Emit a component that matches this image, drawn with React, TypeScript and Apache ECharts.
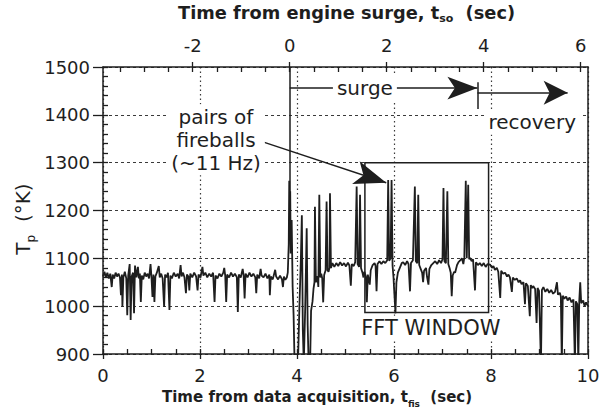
import React, { useEffect, useRef } from "react";
import * as echarts from "echarts";

// ---- tick labels ----
const bottomTicks = [0, 2, 4, 6, 8, 10];
const topTicks = [-2, 0, 2, 4, 6];
const topMinorTicks = [-3.5, -3, -2.5, -2, -1.5, -1, -0.5, 0, 0.5, 1, 1.5, 2, 2.5, 3, 3.5, 4, 4.5, 5, 5.5, 6];
const yRange = [900, 1500];
const xRange = [0, 10];
const surgeStart = 3.85; // t_fis at which t_so = 0

// ---- measured probe temperature trace: [t_fis (s), T_p (K)] ----
const preSurge: [number, number][] = [
  [0.0, 1062], [0.03, 1072], [0.06, 1060], [0.09, 1070], [0.12, 1058], [0.15, 1068], [0.18, 1040], [0.2, 1066],
  [0.23, 1058], [0.26, 1070], [0.29, 1062], [0.32, 1068], [0.35, 1060], [0.37, 1023], [0.39, 1066], [0.4, 999],
  [0.42, 1060], [0.45, 1072], [0.48, 1058], [0.5, 981], [0.52, 1064], [0.55, 1088], [0.57, 971], [0.59, 1062],
  [0.62, 1070], [0.64, 985], [0.66, 1085], [0.69, 1060], [0.72, 1082], [0.74, 1058], [0.76, 1068], [0.78, 1009],
  [0.8, 1064], [0.83, 1056], [0.86, 1070], [0.89, 1062], [0.92, 1068], [0.95, 1058], [0.98, 1088], [1.0, 1060],
  [1.02, 1019], [1.04, 1066], [1.06, 1009], [1.08, 1062], [1.11, 1070], [1.15, 1084], [1.17, 1060], [1.2, 1068],
  [1.23, 1058], [1.26, 999], [1.28, 1066], [1.31, 1060], [1.34, 1070], [1.37, 992], [1.39, 1064], [1.42, 1058],
  [1.46, 1070], [1.5, 1062], [1.54, 1068], [1.57, 1058], [1.6, 1086], [1.62, 1062], [1.65, 1070], [1.68, 1060],
  [1.71, 1027], [1.73, 1066], [1.76, 1062], [1.78, 1033], [1.8, 1068], [1.84, 1060], [1.88, 1070], [1.92, 1062],
  [1.95, 1033], [1.97, 1066], [2.01, 1060], [2.05, 1082], [2.07, 1064], [2.11, 1070], [2.15, 1060], [2.19, 1068],
  [2.23, 1062], [2.27, 1070], [2.3, 1009], [2.32, 1064], [2.36, 1058], [2.4, 1068], [2.44, 1062], [2.48, 1070],
  [2.5, 1080], [2.52, 1064], [2.54, 1009], [2.56, 1066], [2.6, 1060], [2.64, 1070], [2.68, 1062], [2.72, 1068],
  [2.76, 1060], [2.78, 988], [2.8, 1066], [2.84, 1060], [2.88, 1078], [2.9, 1064], [2.92, 1016], [2.94, 1068],
  [2.98, 1060], [3.02, 1070], [3.06, 1062], [3.1, 1068], [3.14, 1060], [3.16, 1027], [3.18, 1066], [3.22, 1058],
  [3.25, 1078], [3.27, 1064], [3.31, 1060], [3.35, 1068], [3.39, 1058], [3.43, 1066], [3.44, 1023], [3.46, 1062],
  [3.5, 1056], [3.55, 1076], [3.57, 1062], [3.61, 1056], [3.65, 1064], [3.69, 1056], [3.71, 1040], [3.73, 1062],
  [3.76, 1055], [3.79, 1060],
];

const surgePhase: [number, number][] = [
  [3.81, 1070], [3.83, 1130], [3.84, 1262], [3.85, 1150], [3.86, 1240], [3.87, 1110], [3.89, 1180], [3.91, 1040],
  [3.93, 980], [3.95, 880], [3.99, 880], [4.02, 880], [4.05, 1000], [4.08, 1100], [4.1, 1190], [4.12, 950],
  [4.14, 880], [4.17, 1000], [4.2, 1163], [4.22, 960], [4.24, 880], [4.27, 880], [4.29, 990], [4.32, 1010],
  [4.34, 1036], [4.36, 1050], [4.37, 1208], [4.39, 1050], [4.42, 1063], [4.44, 1040], [4.46, 1233], [4.48, 1060],
  [4.5, 1068], [4.52, 1058], [4.54, 1008], [4.56, 1065], [4.59, 1075], [4.61, 1219], [4.63, 1075], [4.65, 1072],
  [4.67, 1080], [4.68, 1236], [4.7, 1080], [4.73, 1090], [4.77, 1082], [4.81, 1090], [4.85, 1084], [4.89, 1092],
  [4.93, 1085], [4.97, 1090], [5.01, 1083], [5.05, 1091], [5.08, 1085], [5.11, 1043], [5.13, 1088], [5.17, 1084],
  [5.2, 1092], [5.23, 1250], [5.25, 1088], [5.28, 1082], [5.3, 1233], [5.32, 1080], [5.35, 1070], [5.37, 1060],
  [5.39, 1072], [5.42, 1062], [5.44, 1008], [5.46, 1066], [5.5, 1045], [5.52, 1075], [5.56, 1086], [5.6, 1090],
  [5.62, 1084], [5.64, 1031], [5.66, 1088], [5.7, 1094], [5.74, 1088], [5.78, 1094], [5.82, 1090], [5.86, 1096],
  [5.88, 1264], [5.9, 1095], [5.93, 1100], [5.95, 1264], [5.97, 1085], [5.99, 1060], [6.0, 1040], [6.02, 1004],
  [6.03, 985], [6.05, 1050], [6.08, 1070], [6.12, 1080], [6.16, 1090], [6.19, 1092], [6.23, 1086], [6.27, 1094],
  [6.3, 1088], [6.33, 1031], [6.35, 1090], [6.39, 1096], [6.43, 1250], [6.45, 1094], [6.48, 1090], [6.5, 1233],
  [6.52, 1086], [6.55, 1078], [6.58, 1070], [6.6, 1050], [6.62, 1074], [6.66, 1080], [6.68, 1062], [6.71, 1045],
  [6.73, 1078], [6.77, 1086], [6.81, 1090], [6.85, 1094], [6.89, 1088], [6.93, 1096], [6.97, 1090], [7.0, 1098],
  [7.02, 1247], [7.04, 1094], [7.07, 1090], [7.1, 1240], [7.12, 1088], [7.15, 1078], [7.17, 1070], [7.19, 1021],
  [7.21, 1064], [7.24, 1072], [7.26, 1070], [7.3, 1086], [7.33, 1092], [7.36, 1095], [7.4, 1100], [7.43, 1088],
  [7.45, 1102], [7.48, 1262], [7.5, 1100], [7.53, 1254], [7.55, 1098], [7.57, 1101], [7.6, 1094], [7.63, 1098],
  [7.67, 1033], [7.69, 1092], [7.73, 1086],
];

const recoveryPhase: [number, number][] = [
  [7.77, 1090], [7.81, 1084], [7.85, 1090], [7.89, 1082], [7.93, 1088], [7.98, 1087], [8.02, 1080], [8.05, 1084],
  [8.08, 1076], [8.12, 1080], [8.15, 1072], [8.19, 1017], [8.21, 1074], [8.25, 1068], [8.29, 1070], [8.33, 1062],
  [8.36, 1066], [8.39, 1060], [8.43, 1030], [8.45, 1060], [8.49, 1055], [8.53, 1058], [8.57, 1050], [8.6, 1054],
  [8.63, 1046], [8.67, 1050], [8.7, 1004], [8.72, 1048], [8.76, 1042], [8.8, 979], [8.82, 1044], [8.85, 1038],
  [8.87, 1042], [8.91, 1036], [8.94, 965], [8.96, 1038], [8.99, 1032], [9.03, 880], [9.05, 1034], [9.08, 1040],
  [9.12, 1030], [9.16, 1036], [9.2, 1028], [9.24, 1034], [9.28, 1026], [9.32, 1030], [9.36, 1050], [9.38, 1024],
  [9.42, 1028], [9.44, 1020], [9.46, 880], [9.48, 1022], [9.51, 1016], [9.55, 1020], [9.58, 1012], [9.62, 1018],
  [9.66, 1008], [9.7, 1014], [9.73, 880], [9.75, 1010], [9.78, 1004], [9.8, 880], [9.82, 1012], [9.84, 1050],
  [9.86, 1006], [9.9, 1012], [9.93, 1000], [9.96, 1008], [10.0, 1000],
];

// ---- annotations (data coordinates) ----
const fftWindowT = [5.4, 7.95];
const fftWindowK = [1300, 987];
const surgeArrow = [3.85, 7.72, 1456];
const recoveryArrow = [7.72, 9.58, 1446];
const phaseDivider = [7.72, 1468, 1412];
const surgeStartLine = [1500, 1170];
const fireballArrow = [[3.28, 1344], [5.84, 1258]];

const FONT = '"DejaVu Sans", sans-serif';
const INK = "#1e1e1e";

export default function App() {
  const ref = useRef<HTMLDivElement>(null);
  useEffect(() => {
    if (!ref.current) return;
    const chart = echarts.init(ref.current, undefined, { renderer: "svg" });
    const trace = [...preSurge, ...surgePhase, ...recoveryPhase];
    const axisLine = { show: true, onZero: false, lineStyle: { color: INK, width: 1.5 } };
    const tickStyle = { color: INK, width: 1.3 };
    const labelStyle = { fontSize: 18, fontFamily: FONT, color: INK };
    const subRich = (size: number, bold: boolean, lh: number) => ({
      m: { fontSize: size, fontFamily: FONT, fontWeight: bold ? "bold" : "normal", fill: INK, lineHeight: lh },
      s: { fontSize: Math.round(size * 0.6), fontFamily: FONT, fontWeight: bold ? "bold" : "normal", fill: INK, lineHeight: lh, verticalAlign: "bottom" },
    });
    const option: any = {
      animation: false,
      backgroundColor: "#ffffff",
      grid: { left: 103, right: 15, top: 67, bottom: 61 },
      xAxis: [
        {
          type: "value", position: "bottom", min: xRange[0], max: xRange[1], interval: 2,
          axisLine, axisTick: { show: true, inside: false, length: 5, lineStyle: tickStyle },
          axisLabel: { ...labelStyle, margin: 12, customValues: bottomTicks },
          splitLine: { show: true, lineStyle: { color: "#3a3a3a", type: [1.5, 3], width: 1.2 } },
        },
        {
          type: "value", position: "top", min: xRange[0] - surgeStart, max: xRange[1] - surgeStart,
          axisLine, axisTick: { show: true, inside: false, length: 5, lineStyle: tickStyle, customValues: topTicks },
          axisLabel: { ...labelStyle, margin: 13, customValues: topTicks },
          splitLine: { show: false },
        },
        {
          type: "value", position: "bottom", min: xRange[0], max: xRange[1], interval: 0.5,
          axisLine: { show: false, onZero: false }, axisTick: { show: true, inside: true, length: 5, lineStyle: tickStyle },
          axisLabel: { show: false }, splitLine: { show: false },
        },
        {
          type: "value", position: "top", min: xRange[0] - surgeStart, max: xRange[1] - surgeStart,
          axisLine: { show: false, onZero: false }, axisTick: { show: true, inside: true, length: 5, lineStyle: tickStyle, customValues: topMinorTicks },
          axisLabel: { show: false }, splitLine: { show: false },
        },
      ],
      yAxis: [
        {
          type: "value", position: "left", min: yRange[0], max: yRange[1], interval: 100,
          axisLine, axisTick: { show: true, inside: false, length: 10, lineStyle: tickStyle },
          axisLabel: { ...labelStyle, margin: 13, formatter: (v: number) => String(v) },
          splitLine: { show: true, lineStyle: { color: "#3a3a3a", type: [3, 3], width: 1.2 } },
        },
        {
          type: "value", position: "right", min: yRange[0], max: yRange[1],
          axisLine, axisTick: { show: false }, axisLabel: { show: false }, splitLine: { show: false },
        },
        {
          type: "value", position: "left", min: yRange[0], max: yRange[1], interval: 20,
          axisLine: { show: false, onZero: false }, axisTick: { show: true, inside: true, length: 5, lineStyle: tickStyle },
          axisLabel: { show: false }, splitLine: { show: false },
        },
      ],
      graphic: [
        {
          type: "text", left: 178, top: 3, z: 20,
          style: { text: "{m|Time from engine surge, t}{s|so}{m|  (sec)}", rich: subRich(17.8, true, 24) },
        },
        {
          type: "text", left: 162, top: 389, z: 20,
          style: { text: "{m|Time from data acquisition, t}{s|fis}{m|  (sec)}", rich: subRich(15, true, 24) },
        },
        {
          type: "text", x: 23, y: 219, rotation: Math.PI / 2, z: 20,
          style: { text: "{m|T}{s|p}{m|  (°K)}", align: "center", verticalAlign: "middle", rich: subRich(20, false, 28) },
        },
      ],
      series: [
        {
          type: "line",
          xAxisIndex: 0,
          yAxisIndex: 0,
          data: trace,
          showSymbol: false,
          symbol: "none",
          clip: true,
          lineStyle: { color: INK, width: 1.8 },
          silent: true,
          markArea: {
            silent: true,
            itemStyle: { color: "rgba(0,0,0,0)", borderColor: INK, borderWidth: 1.5 },
            data: [[{ coord: [fftWindowT[0], fftWindowK[0]] }, { coord: [fftWindowT[1], fftWindowK[1]] }]],
          },
          markLine: {
            silent: true,
            z: 6,
            symbol: ["none", "none"],
            label: { show: false },
            lineStyle: { color: INK, width: 1.5, type: "solid" },
            data: [
              [{ coord: [surgeStart, surgeStartLine[0]] }, { coord: [surgeStart, surgeStartLine[1]] }],
              [
                { coord: [surgeArrow[0], surgeArrow[2]] },
                { coord: [surgeArrow[1], surgeArrow[2]], symbol: "arrow", symbolSize: [17, 30] },
              ],
              [{ coord: [phaseDivider[0], phaseDivider[1]] }, { coord: [phaseDivider[0], phaseDivider[2]] }],
              [
                { coord: [recoveryArrow[0], recoveryArrow[2]] },
                { coord: [recoveryArrow[1], recoveryArrow[2]], symbol: "arrow", symbolSize: [18, 24] },
              ],
              [
                { coord: fireballArrow[0] },
                { coord: fireballArrow[1], symbol: "arrow", symbolSize: [18, 32] },
              ],
            ],
          },
          markPoint: {
            silent: true,
            z: 10,
            symbol: "rect",
            symbolSize: 1,
            itemStyle: { color: "rgba(0,0,0,0)" },
            label: {
              show: true, position: "inside", formatter: "{b}", color: INK, fontFamily: FONT, fontSize: 20,
              lineHeight: 23, backgroundColor: "#ffffff", padding: [1, 4],
            },
            data: [
              { name: "pairs of\nfireballs\n(~11 Hz)", coord: [2.33, 1348] },
              { name: "surge", coord: [5.4, surgeArrow[2]] },
              { name: "recovery", coord: [8.85, 1385] },
              { name: "FFT WINDOW", coord: [6.76, 954], label: { fontSize: 21 } },
            ],
          },
        },
      ],
    };
    chart.setOption(option);
    return () => chart.dispose();
  }, []);
  return <div ref={ref} style={{ position: "fixed", left: 0, top: 0, width: 603, height: 415 }} />;
}
